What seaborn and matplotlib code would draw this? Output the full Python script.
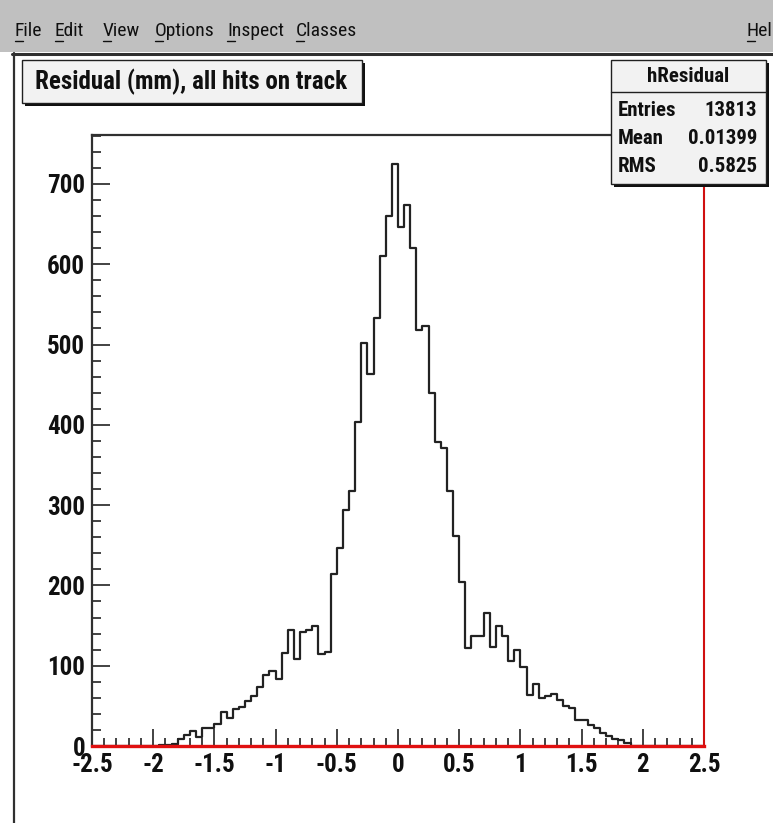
import numpy as np
import pandas as pd
import matplotlib
matplotlib.use("Agg")
import matplotlib.pyplot as plt
import seaborn as sns
from matplotlib.patches import Rectangle
from matplotlib.lines import Line2D

# ---------------- data ----------------
x_range = (-2.5, 2.5)
n_bins = 100
counts = ([0] * 11 +
          [1, 1, 3, 9, 14, 19, 11, 22, 22, 27,
           42, 35, 46, 48, 56, 62, 73, 88, 93, 83,
           116, 145, 108, 142, 144, 150, 114, 117, 214, 247,
           294, 317, 404, 502, 463, 533, 610, 660, 725, 646,
           674, 620, 518, 523, 440, 379, 371, 318, 261, 204,
           122, 137, 137, 166, 123, 150, 137, 106, 119, 98,
           64, 77, 60, 62, 65, 57, 50, 47, 32, 32,
           26, 23, 16, 12, 9, 8, 4] +
          [0] * 12)
xtick_values = [-2.5, -2, -1.5, -1, -0.5, 0, 0.5, 1, 1.5, 2, 2.5]
xtick_labels = ["-2.5", "-2", "-1.5", "-1", "-0.5", "0", "0.5", "1", "1.5", "2", "2.5"]
ytick_values = [0, 100, 200, 300, 400, 500, 600, 700]
ytick_labels = ["0", "100", "200", "300", "400", "500", "600", "700"]
title_text = "Residual (mm), all hits on track"
stats_name = "hResidual"
stats_rows = [("Entries", "13813"), ("Mean", "0.01399"), ("RMS", "0.5825")]
menu_items = [("File", 15), ("Edit", 55), ("View", 103), ("Options", 155),
              ("Inspect", 227), ("Classes", 296)]

bin_width = (x_range[1] - x_range[0]) / n_bins
centers = x_range[0] + bin_width * (np.arange(n_bins) + 0.5)
df = pd.DataFrame({"residual": centers, "count": counts})

# ---------------- figure ----------------
W, H = 773, 823
sns.set_theme(style="white")
plt.rcParams["axes.unicode_minus"] = False
FAM = ["Roboto Condensed", "Liberation Sans", "DejaVu Sans"]
plt.rcParams["font.family"] = FAM

fig = plt.figure(figsize=(W / 100, H / 100), dpi=100)
fig.patch.set_facecolor("white")

def fx(x):
    return x / W

def fy(y):
    return 1 - y / H

def rect(x0, y0, x1, y1, **kw):
    r = Rectangle((fx(x0), fy(y1)), (x1 - x0) / W, (y1 - y0) / H,
                  transform=fig.transFigure, **kw)
    fig.add_artist(r)
    return r

def hline(x0, x1, y, **kw):
    fig.add_artist(Line2D([fx(x0), fx(x1)], [fy(y), fy(y)],
                          transform=fig.transFigure, **kw))

def vline(x, y0, y1, **kw):
    fig.add_artist(Line2D([fx(x), fx(x)], [fy(y0), fy(y1)],
                          transform=fig.transFigure, **kw))

# menu bar
rect(0, 0, W, 52, facecolor="#c0c0c0", edgecolor="none", zorder=0.5)
hline(12, W, 53.5, color="#303030", lw=2.2, zorder=0.6)
vline(14, 53, H, color="#303030", lw=1.6, zorder=0.6)
for word, x in menu_items:
    fig.text(fx(x), fy(31), word, fontsize=14, family=FAM,
             ha="left", va="center", color="#101010")
fig.text(fx(747), fy(31), "Help", fontsize=14, family=FAM,
         ha="left", va="center", color="#101010")
for word, x in menu_items + [("Help", 747)]:
    hline(x, x + 8, 41, color="#101010", lw=1.0, zorder=0.7)

# axes
ax_l, ax_r, ax_t, ax_b = 92, 704, 135, 746
ax = fig.add_axes([fx(ax_l), fy(ax_b), (ax_r - ax_l) / W, (ax_b - ax_t) / H])
ax.set_facecolor("white")

sns.histplot(data=df, x="residual", weights="count", binwidth=bin_width,
             binrange=x_range, element="step", fill=False, color="#222222",
             linewidth=1.6, ax=ax)

ax.set_xlim(*x_range)
ax.set_ylim(0, 761)
ax.set_xlabel("")
ax.set_ylabel("")
ax.set_xticks(xtick_values)
ax.set_xticklabels(xtick_labels)
ax.set_yticks(ytick_values)
ax.set_yticklabels(ytick_labels)
ax.set_xticks(np.arange(-2.5, 2.51, 0.1), minor=True)
ax.set_yticks(np.arange(0, 761, 20), minor=True)
ax.tick_params(axis="x", which="major", direction="in", length=12.5, width=1.1,
               color="#101010", bottom=True, top=False, pad=5,
               labelsize=18)
ax.tick_params(axis="x", which="minor", direction="in", length=6, width=1.1,
               color="#101010", bottom=True, top=False)
ax.tick_params(axis="y", which="major", direction="in", length=13, width=1.1,
               color="#101010", left=True, right=False, pad=5,
               labelsize=18)
ax.tick_params(axis="y", which="minor", direction="in", length=6.5, width=1.1,
               color="#101010", left=True, right=False)
for lab in ax.get_xticklabels() + ax.get_yticklabels():
    lab.set_fontweight("bold")
    lab.set_family(FAM)
    lab.set_color("#101010")

for side in ["left", "top"]:
    ax.spines[side].set_color("#303030")
    ax.spines[side].set_linewidth(1.6)
ax.spines["right"].set_color("#d01010")
ax.spines["right"].set_linewidth(1.5)
ax.spines["bottom"].set_color("#e01010")
ax.spines["bottom"].set_linewidth(2.4)
for s in ax.spines.values():
    s.set_zorder(3)

# title box
rect(25, 63, 365, 106, facecolor="#101010", edgecolor="none", zorder=2)
rect(22, 60, 362, 103, facecolor="#f2f2f2", edgecolor="#202020", lw=1.0, zorder=2.1)
fig.text(fx(191), fy(82), title_text, fontsize=18, fontweight="bold",
         family=FAM, ha="center", va="center", color="#101010", zorder=2.2)

# stats box
sx0, sy0, sx1, sy1 = 611, 60, 766, 184
rect(sx0 + 3, sy0 + 3, sx1 + 3, sy1 + 3, facecolor="#101010", edgecolor="none", zorder=2)
rect(sx0, sy0, sx1, sy1, facecolor="#f2f2f2", edgecolor="#202020", lw=1.0, zorder=2.1)
hline(sx0, sx1, 92, color="#202020", lw=1.0, zorder=2.2)
fig.text(fx((sx0 + sx1) / 2), fy(77), stats_name, fontsize=15, fontweight="bold",
         family=FAM, ha="center", va="center", color="#101010", zorder=2.3)
for i, (k, v) in enumerate(stats_rows):
    yy = 111 + i * 28
    fig.text(fx(618), fy(yy), k, fontsize=15, fontweight="bold", family=FAM,
             ha="left", va="center", color="#101010", zorder=2.3)
    fig.text(fx(757), fy(yy), v, fontsize=15, fontweight="bold", family=FAM,
             ha="right", va="center", color="#101010", zorder=2.3)

fig.savefig("out.png", dpi=100)
